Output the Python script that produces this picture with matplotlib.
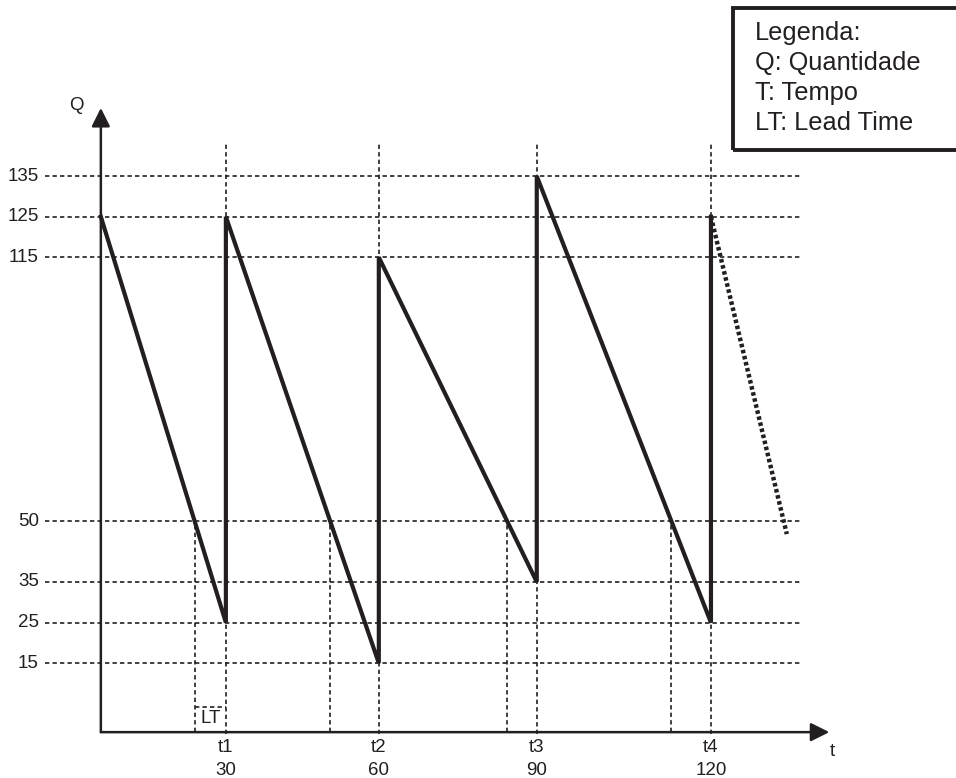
import matplotlib
matplotlib.use("Agg")
import matplotlib.pyplot as plt
from matplotlib.patches import Rectangle

plt.rcParams['font.family'] = ['Liberation Sans', 'DejaVu Sans']

INK = "#231f20"
GRID_LS = (0, (2.6, 1.9))
FS = 13.5

# reorder instants (the drawing is schematic, so the spacing is uneven)
t_labels = ["t1", "t2", "t3", "t4"]
t_days = [30, 60, 90, 120]
t_pos = [30.0, 66.7, 104.6, 146.4]

# quantity levels marked on the Q axis
q_levels = [135, 125, 115, 50, 35, 25, 15]

# stock at the start of each cycle and just before each replenishment
q_start = [125, 125, 115, 135, 125]
q_end = [25, 15, 35, 25]
reorder_point = 50

# projected decline after t4
proj_end_t = 164.6
proj_end_q = 46.8

fig = plt.figure(figsize=(9.56, 7.78), dpi=100)
ax = fig.add_axes([0, 0, 1, 1])
ax.set_xlim(-24.2, 205.2)
ax.set_ylim(-13.3, 178.4)
ax.axis("off")

y_axis = -2.0
x_left = -13.4
x_right = 167.7
t_top = 143.4

# horizontal guide lines
for q in q_levels:
    ax.plot([x_left, x_right], [q, q], color=INK, lw=1.2, ls=GRID_LS, zorder=1)
    ax.text(x_left - 1.5, q, str(q), ha="right", va="center", fontsize=FS, color=INK)

# vertical guide lines at t1..t4
for tp, lab, d in zip(t_pos, t_labels, t_days):
    ax.plot([tp, tp], [y_axis - 0.5, t_top], color=INK, lw=1.2, ls=GRID_LS, zorder=1)
    ax.text(tp, -5.9, lab, ha="center", va="center", fontsize=FS, color=INK)
    ax.text(tp, -11.5, str(d), ha="center", va="center", fontsize=FS, color=INK)

# sawtooth stock line
xs = [0.0]
ys = [q_start[0]]
starts_x = [0.0] + t_pos[:-1]
for i, tp in enumerate(t_pos):
    xs += [tp, tp]
    ys += [q_end[i], q_start[i + 1]]
ax.plot(xs, ys, color=INK, lw=3.0, solid_joinstyle="miter", zorder=3)

# reorder point crossings
reorder_x = []
for i, tp in enumerate(t_pos):
    x0, q0, q1 = starts_x[i], q_start[i], q_end[i]
    rx = x0 + (q0 - reorder_point) / (q0 - q1) * (tp - x0)
    reorder_x.append(rx)
    ax.plot([rx, rx], [y_axis, reorder_point], color=INK, lw=1.2, ls=GRID_LS, zorder=1)

# lead time bracket
lt_y = 4.1
ax.plot([reorder_x[0], t_pos[0]], [lt_y, lt_y], color=INK, lw=1.2, ls=GRID_LS, zorder=1)
ax.text((reorder_x[0] + t_pos[0]) / 2, lt_y - 0.6, "LT", ha="center", va="top",
        fontsize=FS, color=INK)

# projection after t4
ax.plot([t_pos[-1], proj_end_t], [q_start[-1], proj_end_q], color=INK, lw=3.2,
        ls=(0, (0.8, 0.6)), zorder=3)

# axes with arrows
ax.annotate("", xy=(0, 151.8), xytext=(0, y_axis),
            arrowprops=dict(arrowstyle="-|>", lw=1.8, color=INK, mutation_scale=28,
                            shrinkA=0, shrinkB=0))
ax.annotate("", xy=(174.8, y_axis), xytext=(0, y_axis),
            arrowprops=dict(arrowstyle="-|>", lw=1.8, color=INK, mutation_scale=28,
                            shrinkA=0, shrinkB=0))
ax.text(-5.8, 152.3, "Q", ha="center", va="center", fontsize=FS, color=INK)
ax.text(175.6, -6.8, "t", ha="center", va="center", fontsize=FS, color=INK)

# legend box
fig.patches.append(Rectangle((733 / 956, 1 - 150 / 778), 0.3, 142 / 778,
                             transform=fig.transFigure, fill=False, ec=INK, lw=2.8))
legend_lines = ["Legenda:", "Q: Quantidade", "T: Tempo", "LT: Lead Time"]
for i, line in enumerate(legend_lines):
    fig.text(755 / 956, 1 - (33 + 30 * i) / 778, line, ha="left", va="center",
             fontsize=18.3, color=INK)

fig.savefig("out.png", dpi=100, facecolor="white")
